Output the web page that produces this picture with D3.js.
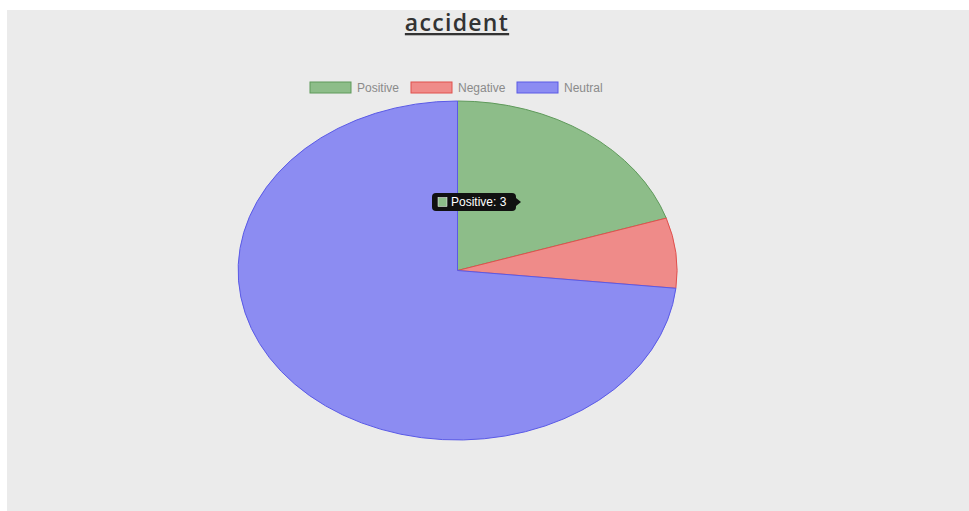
<!DOCTYPE html>
<html>
<head>
<meta charset="utf-8">
<script src="https://cdn.jsdelivr.net/npm/d3@7"></script>
<style>
  html, body { margin: 0; padding: 0; background: #ffffff; }
  svg { display: block; }
</style>
</head>
<body>
<script>
'use strict';

// chart data
const labels = ["Positive", "Negative", "Neutral"];
const values = [3, 1, 11];
const fills = ["#8dbd89", "#ef8b89", "#8c8cf2"];
const borders = ["#5f9a5b", "#e0504d", "#5a5ae6"];
const chartTitle = "accident";
const tipIndex = 0;

(function() {
  const W = 969, H = 511;
  const svg = d3.select('body').append('svg')
    .attr('width', W)
    .attr('height', H);

  // grey panel
  svg.append('rect')
    .attr('x', 7).attr('y', 10)
    .attr('width', W - 7).attr('height', H - 10)
    .attr('fill', '#ebebeb');

  // title
  svg.append('text')
    .attr('x', 457).attr('y', 31)
    .attr('text-anchor', 'middle')
    .style('font-family', '"Open Sans", sans-serif')
    .style('font-weight', '600')
    .style('font-size', '23px')
    .style('letter-spacing', '1.3px')
    .style('text-decoration', 'underline')
    .attr('fill', '#333')
    .text(chartTitle);

  // legend
  const legendX = [310, 411, 517];
  const legend = svg.append('g');
  labels.forEach((l, i) => {
    legend.append('rect')
      .attr('x', legendX[i]).attr('y', 82)
      .attr('width', 41).attr('height', 11)
      .attr('fill', fills[i])
      .attr('stroke', borders[i]).attr('stroke-width', 1);
    legend.append('text')
      .attr('x', legendX[i] + 47).attr('y', 92)
      .style('font-family', 'Arial, "Liberation Sans", sans-serif')
      .style('font-size', '12px')
      .attr('fill', '#8a8a8a')
      .text(l);
  });

  // pie, stretched into an ellipse
  const cx = 457.5, cy = 270.5, rx = 219.5, ry = 169.5;
  const pie = d3.pie().sort(null).value(d => d);
  const arcs = pie(values);
  const arc = d3.arc().innerRadius(0).outerRadius(1);

  const g = svg.append('g')
    .attr('transform', `translate(${cx},${cy}) scale(${rx},${ry})`);
  g.selectAll('path')
    .data(arcs)
    .enter()
    .append('path')
    .attr('d', arc)
    .attr('fill', (d, i) => fills[i])
    .attr('stroke', (d, i) => borders[i])
    .attr('stroke-width', 1)
    .attr('vector-effect', 'non-scaling-stroke');

  // tooltip
  const tip = svg.append('g').attr('transform', 'translate(432,193)');
  tip.append('rect')
    .attr('x', 0).attr('y', 0)
    .attr('width', 84).attr('height', 18)
    .attr('rx', 4)
    .attr('fill', '#111');
  tip.append('path')
    .attr('d', 'M84,5 L89,9 L84,13 Z')
    .attr('fill', '#111');
  tip.append('rect')
    .attr('x', 6).attr('y', 4.5)
    .attr('width', 9).attr('height', 9)
    .attr('fill', fills[tipIndex])
    .attr('stroke', '#fff').attr('stroke-width', 0.5);
  tip.append('text')
    .attr('x', 19).attr('y', 13)
    .style('font-family', 'Arial, "Liberation Sans", sans-serif')
    .style('font-size', '12px')
    .attr('fill', '#fff')
    .text(labels[tipIndex] + ': ' + values[tipIndex]);
})();
</script>
</body>
</html>
